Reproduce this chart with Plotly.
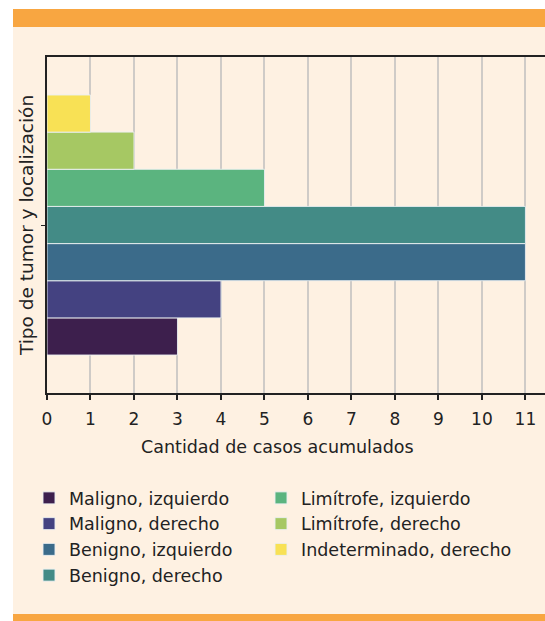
import plotly.graph_objects as go

categories = ["Maligno, izquierdo", "Maligno, derecho", "Benigno, izquierdo", "Benigno, derecho",
              "Limítrofe, izquierdo", "Limítrofe, derecho", "Indeterminado, derecho"]
values = [3, 4, 11, 11, 5, 2, 1]
colors = ["#3D1F4D", "#444281", "#3B6B8A", "#438B86", "#5BB47F", "#A6C863", "#F8E155"]
legend_ids = ["legend", "legend", "legend", "legend", "legend2", "legend2", "legend2"]
group = ["Tumor"]
x_ticks = list(range(0, 12))

FONT = "DejaVu Sans"
FS = 17
W, H = 545, 621
L, T, R, B = 47, 57, 0, 228
PW, PH = W - L - R, H - T - B

def px(x):
    return (x - L) / PW

def py(y):
    return (H - B - y) / PH

fig = go.Figure()
for name, v, c, lg in zip(categories, values, colors, legend_ids):
    fig.add_trace(go.Bar(
        y=group, x=[v], name=name, orientation="h",
        marker=dict(color=c, line=dict(color="rgba(235,240,242,0.9)", width=1)),
        legend=lg,
    ))

shapes = [
    dict(type="rect", xref="paper", yref="paper", x0=px(13), x1=1.0, y0=py(614), y1=py(27),
         fillcolor="#FEF1E2", line=dict(width=0), layer="below"),
    dict(type="rect", xref="paper", yref="paper", x0=px(13), x1=1.0, y0=py(27), y1=py(9),
         fillcolor="#F8A641", line=dict(width=0), layer="below"),
    dict(type="rect", xref="paper", yref="paper", x0=px(13), x1=1.0, y0=py(621), y1=py(614),
         fillcolor="#F8A641", line=dict(width=0), layer="below"),
]

annotations = [
    dict(text="Cantidad de casos acumulados", xref="paper", yref="paper", x=px(277), y=py(447),
         showarrow=False, font=dict(family=FONT, size=17.5, color="#222"), xanchor="center", yanchor="middle"),
    dict(text="Tipo de tumor y localización", xref="paper", yref="paper", x=px(26), y=py(226),
         showarrow=False, font=dict(family=FONT, size=18.5, color="#222"), textangle=-90,
         xanchor="center", yanchor="middle"),
]

LEG_FONT = dict(family=FONT, size=17.5, color="#222")

fig.update_layout(
    width=W, height=H,
    margin=dict(l=L, r=R, t=T, b=B),
    paper_bgcolor="white",
    plot_bgcolor="rgba(0,0,0,0)",
    barmode="group", bargap=0.226, bargroupgap=0,
    font=dict(family=FONT, size=FS, color="#222"),
    shapes=shapes,
    annotations=annotations,
    legend=dict(x=px(29), y=py(480), xanchor="left", yanchor="top", bgcolor="rgba(0,0,0,0)",
                font=LEG_FONT, tracegroupgap=0, itemclick=False),
    legend2=dict(x=px(261), y=py(480), xanchor="left", yanchor="top", bgcolor="rgba(0,0,0,0)",
                 font=LEG_FONT, tracegroupgap=0, itemclick=False),
    xaxis=dict(range=[0, 11.45], tickvals=x_ticks, ticktext=[str(t) for t in x_ticks],
               showgrid=True, gridcolor="#CFCBC7", gridwidth=1.5,
               showline=True, linecolor="#222", linewidth=1.5, mirror=True,
               ticks="outside", ticklen=5, tickcolor="#222", tickwidth=1.5, ticklabelstandoff=5,
               tickfont=dict(family=FONT, size=FS, color="#222"), zeroline=False),
    yaxis=dict(range=[-0.5, 0.5], showticklabels=False, showgrid=False,
               showline=True, linecolor="#222", linewidth=1.5,
               ticks="outside", ticklen=4, tickcolor="#222", zeroline=False),
)

fig.write_html("out.html", config={"displayModeBar": False},
               post_script="document.body.style.margin='0';document.body.style.overflow='hidden';")
